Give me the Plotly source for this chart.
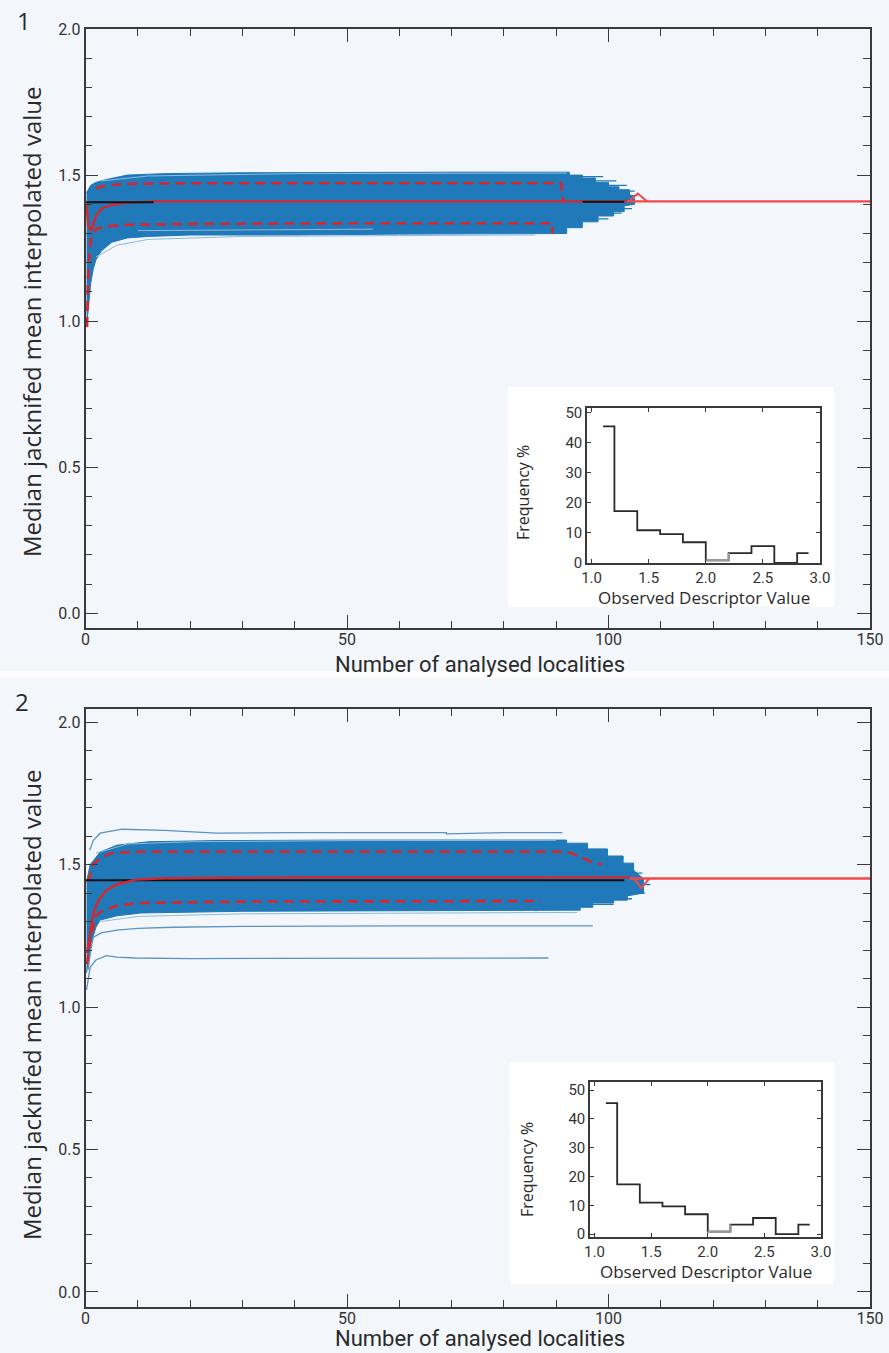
import plotly.graph_objects as go

W, H = 889, 1353

# ---------------- data ----------------
# Panel 1 : envelope of the jackknife curves
p1_up_x = [0.2, 0.6, 1, 2, 4, 8, 15, 30, 50, 70, 90, 92.5, 92.5, 95, 95, 97.5, 97.5, 100, 100, 102, 102, 104, 104, 105]
p1_up_y = [1.44, 1.455, 1.465, 1.475, 1.485, 1.50, 1.505, 1.508, 1.51, 1.51, 1.51, 1.51, 1.50, 1.50, 1.49, 1.49, 1.475, 1.475, 1.46, 1.46, 1.45, 1.45, 1.435, 1.42]
p1_lo_x = [0.2, 0.6, 1, 1.5, 2, 3, 5, 8, 12, 20, 40, 60, 80, 92, 92, 95, 95, 98, 98, 101, 101, 103, 103, 105]
p1_lo_y = [0.98, 1.05, 1.13, 1.18, 1.21, 1.24, 1.27, 1.285, 1.29, 1.295, 1.295, 1.298, 1.30, 1.30, 1.32, 1.32, 1.34, 1.34, 1.36, 1.36, 1.375, 1.375, 1.395, 1.40]
p1_light_x = [[3, 12, 40, 70, 92], [2, 6, 12, 30, 60, 86], [10, 30, 55]]
p1_light_y = [[1.48, 1.497, 1.505, 1.507, 1.507], [1.22, 1.26, 1.28, 1.29, 1.293, 1.295], [1.31, 1.312, 1.315]]
p1_tail_y = [1.495, 1.48, 1.465, 1.445, 1.43, 1.385, 1.37, 1.35]
p1_tail_end = [99, 101.5, 103.5, 105, 105.5, 104.5, 102.5, 100]
p1_med_x = [0.2, 0.5, 1.0, 1.3, 2, 3, 5, 8, 13, 40, 90, 103.5]
p1_med_y = [1.40, 1.33, 1.31, 1.32, 1.36, 1.385, 1.398, 1.405, 1.41, 1.41, 1.41, 1.41]
p1_ext_x = [103.5, 150]
p1_ext_y = [1.41, 1.41]
p1_bump_x = [103.8, 105.6, 107.4]
p1_bump_y = [1.41, 1.437, 1.41]
p1_blk_x = [[0, 13], [95, 103]]
p1_blk_y = [[1.407, 1.407], [1.409, 1.409]]
p1_dup_x = [2, 4, 8, 20, 50, 91, 91, 91.5]
p1_dup_y = [1.455, 1.465, 1.47, 1.472, 1.473, 1.473, 1.43, 1.41]
p1_dlo_x = [0.3, 0.5, 1, 2, 4, 8, 20, 50, 89.3, 89.3]
p1_dlo_y = [0.98, 1.15, 1.28, 1.315, 1.325, 1.33, 1.333, 1.335, 1.335, 1.30]

# Panel 2
p2_up_x = [0.2, 0.9, 2.8, 6, 12, 25, 50, 80, 92, 92, 96, 96, 99.8, 99.8, 102.8, 102.8, 104.8, 104.8, 106.7]
p2_up_y = [1.44, 1.50, 1.544, 1.568, 1.58, 1.584, 1.586, 1.586, 1.586, 1.575, 1.575, 1.555, 1.555, 1.53, 1.53, 1.505, 1.505, 1.48, 1.45]
p2_lo_x = [0.2, 0.5, 1, 2, 2.8, 6, 10.6, 30, 60, 94.6, 94.6, 97, 97, 101, 101, 103.6, 103.6, 106.7]
p2_lo_y = [1.12, 1.155, 1.22, 1.28, 1.305, 1.32, 1.33, 1.336, 1.338, 1.34, 1.35, 1.35, 1.365, 1.365, 1.375, 1.375, 1.39, 1.40]
p2_light_x = [[2, 8, 20, 50, 90], [3, 10, 30, 60, 94]]
p2_light_y = [[1.54, 1.572, 1.58, 1.584, 1.585], [1.30, 1.318, 1.327, 1.33, 1.332]]
p2_tail_y = [1.52, 1.50, 1.47, 1.43, 1.40, 1.38, 1.36]
p2_tail_end = [102, 104, 106.5, 108, 107, 104.5, 101]
p2_out_top_x = [0.8, 1.5, 2.8, 5, 7, 15, 22, 25, 40, 55, 69, 69, 80, 91.2]
p2_out_top_y = [1.55, 1.585, 1.61, 1.618, 1.624, 1.62, 1.614, 1.61, 1.612, 1.612, 1.612, 1.608, 1.612, 1.612]
p2_out_mid_x = [0.5, 1, 1.5, 3, 6, 10, 16.7, 30, 60, 90, 97]
p2_out_mid_y = [1.13, 1.20, 1.245, 1.26, 1.27, 1.276, 1.28, 1.283, 1.285, 1.285, 1.285]
p2_out_low_x = [0.2, 0.5, 0.9, 2, 4, 6, 9.5, 20, 50, 88.5]
p2_out_low_y = [1.06, 1.10, 1.14, 1.165, 1.18, 1.175, 1.172, 1.17, 1.172, 1.172]
p2_med_x = [0.3, 0.8, 1.5, 2.5, 4, 6, 9.6, 15, 40, 90, 104]
p2_med_y = [1.19, 1.25, 1.33, 1.375, 1.41, 1.43, 1.447, 1.452, 1.455, 1.455, 1.455]
p2_blk_x = [0, 103]
p2_blk_y = [1.445, 1.445]
p2_ext_x = [104, 150]
p2_ext_y = [1.451, 1.451]
p2_dip_x = [104.8, 106.3, 107.8]
p2_dip_y = [1.451, 1.418, 1.451]
p2_dup_x = [0.5, 1.5, 3, 5, 10, 30, 60, 92, 94.7, 96.6, 98.8]
p2_dup_y = [1.44, 1.50, 1.525, 1.54, 1.545, 1.545, 1.545, 1.545, 1.527, 1.51, 1.50]
p2_dlo_x = [0.3, 1, 2, 3.4, 6, 10, 30, 60, 87]
p2_dlo_y = [1.15, 1.25, 1.32, 1.34, 1.355, 1.365, 1.37, 1.372, 1.372]

# Inset histogram (same in both panels)
hist_edges = [1.1, 1.2, 1.4, 1.6, 1.8, 2.0, 2.2, 2.4, 2.6, 2.8, 2.9]
hist_freq = [45.5, 17.3, 10.9, 9.6, 6.9, 0.9, 3.3, 5.6, 0.0, 3.3, 3.3]
hist_ticks = [1.0, 1.5, 2.0, 2.5, 3.0]
freq_ticks = [0, 10, 20, 30, 40, 50]
main_xticks = [0, 50, 100, 150]
main_yticks = [0.0, 0.5, 1.0, 1.5, 2.0]

BLUE = "#2079b8"
LIGHT = "#8db9dc"
RED = "#d8262f"
LRED = "#f2494b"
BG = "#f3f7fb"
AX = "#3a3a3a"
COND = "Liberation Sans Narrow, Arial Narrow, Roboto, sans-serif"
REG = "Open Sans, Noto Sans, sans-serif"


def px_to_paper_x(p):
    return p / W


def px_to_paper_y(p):
    return 1 - p / H


fig = go.Figure()


def add_panel(xa, ya, d):
    kw = dict(xaxis=xa, yaxis=ya, mode="lines", showlegend=False, hoverinfo="skip")
    bx = d["up_x"] + d["lo_x"][::-1]
    by = d["up_y"] + d["lo_y"][::-1]
    fig.add_trace(go.Scatter(x=bx, y=by, fill="toself", fillcolor=BLUE,
                             line=dict(color=BLUE, width=1), **kw))
    for lx, ly in zip(d["light_x"], d["light_y"]):
        fig.add_trace(go.Scatter(x=lx, y=ly, line=dict(color=LIGHT, width=1), **kw))
    tx, ty = [], []
    for yy, xe in zip(d["tail_y"], d["tail_end"]):
        tx += [88, xe, None]
        ty += [yy, yy, None]
    fig.add_trace(go.Scatter(x=tx, y=ty, line=dict(color=BLUE, width=1.3), **kw))
    for ox, oy in d.get("outliers", []):
        fig.add_trace(go.Scatter(x=ox, y=oy, line=dict(color="#5b93c2", width=1.3), **kw))
    for dx, dy in [(d["dup_x"], d["dup_y"]), (d["dlo_x"], d["dlo_y"])]:
        fig.add_trace(go.Scatter(x=dx, y=dy, line=dict(color=RED, width=2.6, dash="10px,6px"), **kw))
    if d.get("blk_under"):
        for kx, ky in d["blk"]:
            fig.add_trace(go.Scatter(x=kx, y=ky, line=dict(color="#111111", width=2), **kw))
    fig.add_trace(go.Scatter(x=d["ext_x"], y=d["ext_y"], line=dict(color=LRED, width=2.4), **kw))
    fig.add_trace(go.Scatter(x=d["bump_x"], y=d["bump_y"], line=dict(color=LRED, width=2), **kw))
    fig.add_trace(go.Scatter(x=d["med_x"], y=d["med_y"], line=dict(color=RED, width=2.4), **kw))
    if not d.get("blk_under"):
        for kx, ky in d["blk"]:
            fig.add_trace(go.Scatter(x=kx, y=ky, line=dict(color="#111111", width=2), **kw))


add_panel("x", "y", dict(up_x=p1_up_x, up_y=p1_up_y, lo_x=p1_lo_x, lo_y=p1_lo_y,
                         light_x=p1_light_x, light_y=p1_light_y,
                         tail_y=p1_tail_y, tail_end=p1_tail_end,
                         dup_x=p1_dup_x, dup_y=p1_dup_y, dlo_x=p1_dlo_x, dlo_y=p1_dlo_y,
                         med_x=p1_med_x, med_y=p1_med_y, ext_x=p1_ext_x, ext_y=p1_ext_y,
                         bump_x=p1_bump_x, bump_y=p1_bump_y,
                         blk=list(zip(p1_blk_x, p1_blk_y))))
add_panel("x2", "y2", dict(up_x=p2_up_x, up_y=p2_up_y, lo_x=p2_lo_x, lo_y=p2_lo_y,
                           light_x=p2_light_x, light_y=p2_light_y,
                           tail_y=p2_tail_y, tail_end=p2_tail_end,
                           outliers=[(p2_out_top_x, p2_out_top_y), (p2_out_mid_x, p2_out_mid_y),
                                     (p2_out_low_x, p2_out_low_y)],
                           dup_x=p2_dup_x, dup_y=p2_dup_y, dlo_x=p2_dlo_x, dlo_y=p2_dlo_y,
                           med_x=p2_med_x, med_y=p2_med_y, ext_x=p2_ext_x, ext_y=p2_ext_y,
                           bump_x=p2_dip_x, bump_y=p2_dip_y,
                           blk=[(p2_blk_x, p2_blk_y)], blk_under=True))

for xa, ya in [("x3", "y3"), ("x4", "y4")]:
    fig.add_trace(go.Scatter(x=hist_edges, y=hist_freq, xaxis=xa, yaxis=ya, mode="lines",
                             line=dict(color="#2a2a2a", width=1.8, shape="hv"),
                             showlegend=False, hoverinfo="skip"))
    fig.add_trace(go.Scatter(x=hist_edges[5:7], y=hist_freq[5:7], xaxis=xa, yaxis=ya, mode="lines",
                             line=dict(color="#9a9a9a", width=2, shape="hv"),
                             showlegend=False, hoverinfo="skip"))

xdom = [px_to_paper_x(85.5), px_to_paper_x(870)]
main_x = dict(domain=xdom, range=[0, 150], tickvals=main_xticks, ticks="inside", ticklen=13,
              tickwidth=1.3, tickcolor=AX, showline=True, linecolor=AX, linewidth=1.6,
              mirror="ticks", showgrid=False, zeroline=False, automargin=False,
              ticklabelstandoff=-4,
              tickfont=dict(family=COND, size=16, color="#333"),
              minor=dict(dtick=10, ticks="inside", ticklen=7, tickcolor=AX, tickwidth=1.2, showgrid=False))
main_y = dict(tickvals=main_yticks, ticktext=["0.0", "0.5", "1.0", "1.5", "2.0"],
              ticks="inside", ticklen=13, tickwidth=1.3, tickcolor=AX, showline=True,
              linecolor=AX, linewidth=1.6, mirror="ticks", showgrid=False, zeroline=False,
              automargin=False, tickfont=dict(family=COND, size=16, color="#333"),
              minor=dict(dtick=0.1, ticks="inside", ticklen=7, tickcolor=AX, tickwidth=1.2, showgrid=False))

ins_x = dict(range=[0.96, 3.0], tickvals=hist_ticks, ticktext=["1.0", "1.5", "2.0", "2.5", "3.0"],
             ticks="inside", ticklen=4, tickcolor=AX, showline=True, linecolor=AX, linewidth=1.5,
             mirror="ticks", showgrid=False, zeroline=False, automargin=False,
             tickfont=dict(family=COND, size=15, color="#333"))
ins_y = dict(tickvals=freq_ticks, ticks="inside", ticklen=4, tickcolor=AX, showline=True,
             linecolor=AX, linewidth=1.5, mirror="ticks", showgrid=False, zeroline=False,
             automargin=False, tickfont=dict(family=COND, size=15, color="#333"))

fig.update_layout(
    width=W, height=H, autosize=False,
    margin=dict(l=0, r=0, t=0, b=0, autoexpand=False),
    paper_bgcolor=BG, plot_bgcolor="rgba(0,0,0,0)",
    xaxis=dict(main_x, anchor="y"),
    yaxis=dict(main_y, anchor="x", range=[-0.05, 2.0],
               domain=[px_to_paper_y(628), px_to_paper_y(29)]),
    xaxis2=dict(main_x, anchor="y2"),
    yaxis2=dict(main_y, anchor="x2", range=[-0.053, 2.046],
                domain=[px_to_paper_y(1307), px_to_paper_y(709)]),
    xaxis3=dict(ins_x, anchor="y3", domain=[px_to_paper_x(587), px_to_paper_x(820)]),
    yaxis3=dict(ins_y, anchor="x3", range=[0, 51.6],
                domain=[px_to_paper_y(563), px_to_paper_y(408)]),
    xaxis4=dict(ins_x, anchor="y4", domain=[px_to_paper_x(590), px_to_paper_x(821)]),
    yaxis4=dict(ins_y, anchor="x4", range=[-1, 52.8],
                domain=[px_to_paper_y(1237), px_to_paper_y(1082)]),
)

shapes = [
    dict(type="rect", xref="paper", yref="paper", x0=0, x1=1,
         y0=px_to_paper_y(678), y1=px_to_paper_y(671), fillcolor="#fdfdfb", line=dict(width=0), layer="below"),
    dict(type="rect", xref="paper", yref="paper", x0=px_to_paper_x(508), x1=px_to_paper_x(834),
         y0=px_to_paper_y(607), y1=px_to_paper_y(387), fillcolor="#ffffff", line=dict(width=0), layer="below"),
    dict(type="rect", xref="paper", yref="paper", x0=px_to_paper_x(510), x1=px_to_paper_x(834),
         y0=px_to_paper_y(1284), y1=px_to_paper_y(1062), fillcolor="#ffffff", line=dict(width=0), layer="below"),
]
fig.update_layout(shapes=shapes)

ann = []


def text(s, xp, yp, size, fam, angle=0, color="#2a2a2a"):
    ann.append(dict(text=s, x=px_to_paper_x(xp), y=px_to_paper_y(yp), xref="paper", yref="paper",
                    showarrow=False, textangle=angle, xanchor="center", yanchor="middle",
                    font=dict(size=size, family=fam, color=color)))


text("1", 24, 21, 24, REG)
text("2", 22, 702, 24, REG)
text("Median jacknifed mean interpolated value", 31, 322, 24, REG, -90)
text("Median jacknifed mean interpolated value", 31, 1005, 24, REG, -90)
text("Number of analysed localities", 480, 664, 22, COND)
text("Number of analysed localities", 480, 1338, 22, COND)
text("Frequency %", 523, 493, 16, REG, -90)
text("Frequency %", 527, 1170, 16, REG, -90)
text("Observed Descriptor Value", 704, 598, 17, REG)
text("Observed Descriptor Value", 706, 1271, 17, REG)
fig.update_layout(annotations=ann)

fig.write_html("out.html", config={"displayModeBar": False},
               post_script="document.body.style.margin='0px';document.body.style.overflow='hidden';")
